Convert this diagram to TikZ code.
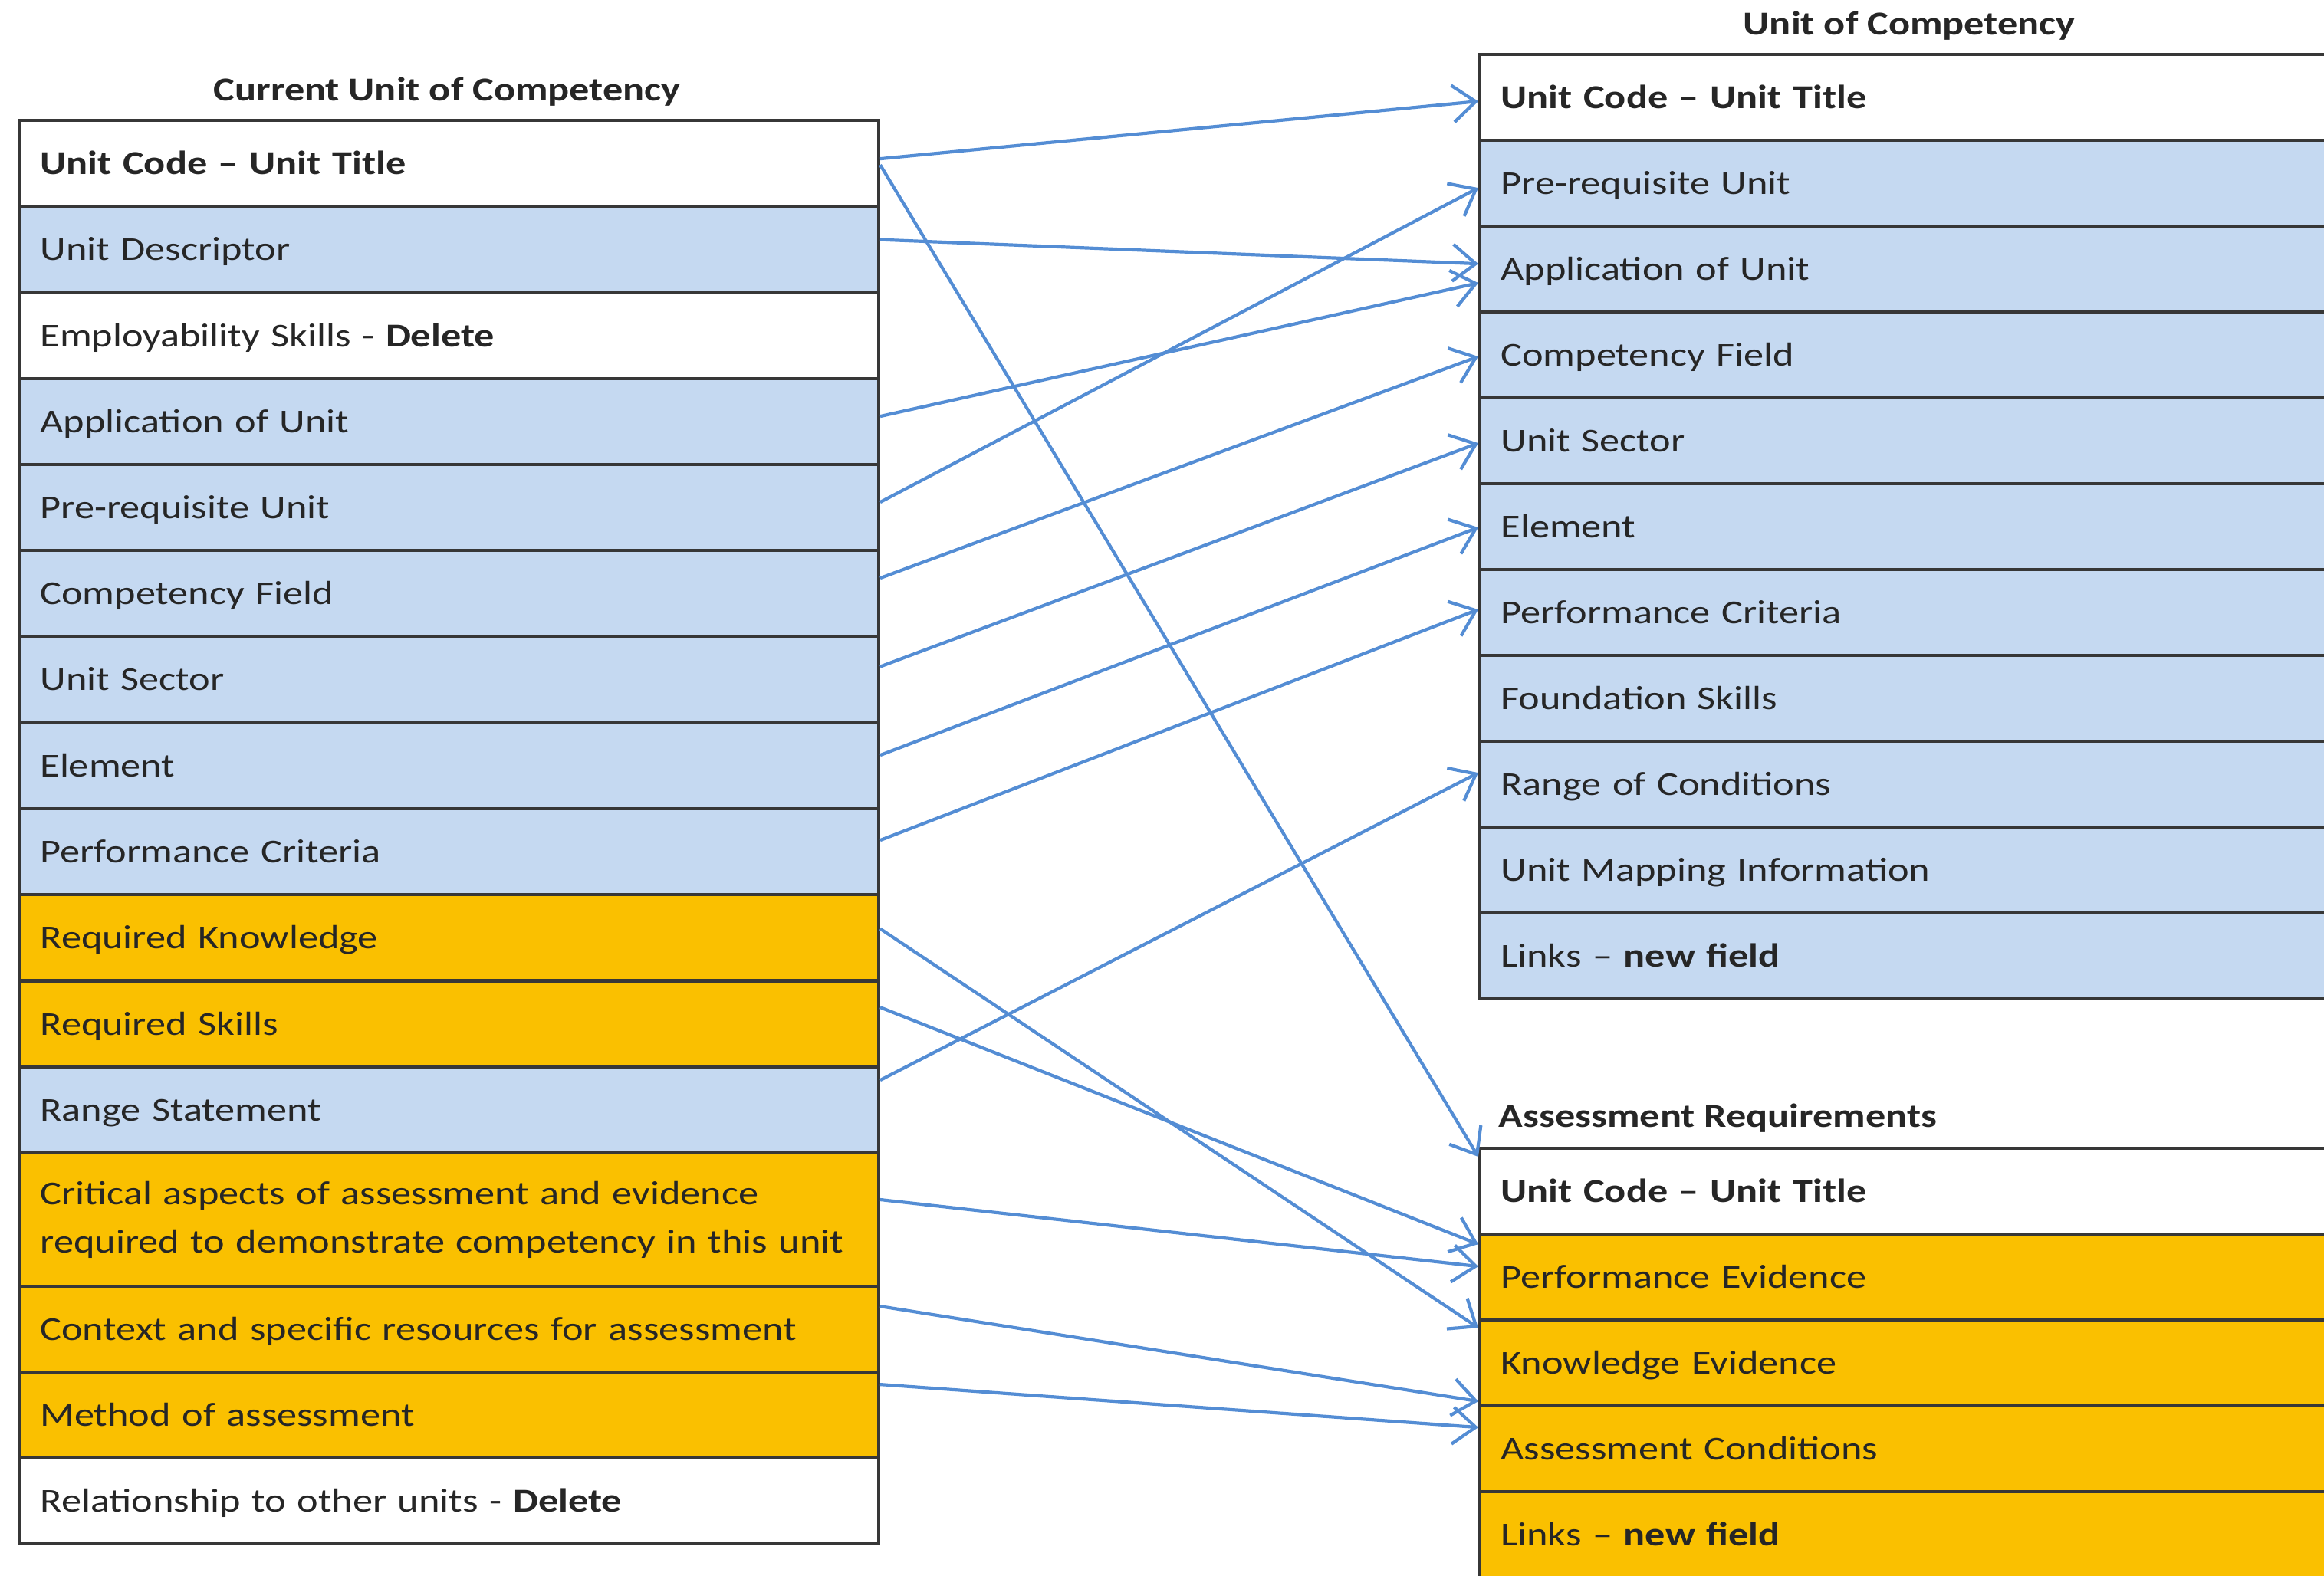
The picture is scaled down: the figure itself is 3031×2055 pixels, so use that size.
\documentclass[tikz,border=0pt]{standalone}
\usepackage{fontspec}
\setmainfont{Carlito}[FakeStretch=1.2]
\usetikzlibrary{arrows.meta}
\definecolor{rowblue}{RGB}{197,217,241}
\definecolor{rowgold}{RGB}{250,192,0}
\definecolor{linkblue}{RGB}{84,141,212}
\definecolor{edgegray}{RGB}{55,55,55}
\begin{document}
\begin{tikzpicture}[x=0.1mm,y=-0.1mm,
  row/.style={draw=edgegray, line width=0.4mm, anchor=north west, inner xsep=2.75mm, inner ysep=0pt,
    text width=106.6mm, minimum height=11.22mm, align=left,
    text height=3.6mm, text depth=0.8mm,
    font=\fontsize{12.4}{18}\selectfont, text=black!85},
  bluerow/.style={row, fill=rowblue},
  goldrow/.style={row, fill=rowgold},
  whiterow/.style={row, fill=white},
  tabletitle/.style={font=\fontsize{12.4}{15}\selectfont\bfseries, text=black!85, inner sep=0pt},
  link/.style={draw=linkblue, line width=0.42mm,
    -{Straight Barb[length=3mm,width=4.8mm,line width=0.42mm]}}
]
\useasboundingbox (0,0) rectangle (3031,2055);

% ---- left table
\node[tabletitle, anchor=base] (TL) at (583,131) {Current Unit of Competency};
\node[whiterow] (L1) at (23,155) {\textbf{Unit Code -- Unit Title}};
\node[bluerow] (L2) at (23,267) {Unit Descriptor};
\node[whiterow] (L3) at (23,380) {Employability Skills - \textbf{Delete}};
\node[bluerow] (L4) at (23,492) {Application of Unit};
\node[bluerow] (L5) at (23,604) {Pre-requisite Unit};
\node[bluerow] (L6) at (23,716) {Competency Field};
\node[bluerow] (L7) at (23,828) {Unit Sector};
\node[bluerow] (L8) at (23,941) {Element};
\node[bluerow] (L9) at (23,1053) {Performance Criteria};
\node[goldrow] (L10) at (23,1165) {Required Knowledge};
\node[goldrow] (L11) at (23,1278) {Required Skills};
\node[bluerow] (L12) at (23,1390) {Range Statement};
\node[goldrow, minimum height=17.4mm, text height={}, text depth={}] (L13) at (23,1502) {Critical aspects of assessment and evidence\\required to demonstrate competency in this unit};
\node[goldrow] (L14) at (23,1676) {Context and specific resources for assessment};
\node[goldrow] (L15) at (23,1788) {Method of assessment};
\node[whiterow] (L16) at (23,1900) {Relationship to other units - \textbf{Delete}};

% ---- right upper table
\node[tabletitle, anchor=base] (TR) at (2490,45) {Unit of Competency};
\node[whiterow] (R1) at (1928,69) {\textbf{Unit Code -- Unit Title}};
\node[bluerow] (R2) at (1928,181) {Pre-requisite Unit};
\node[bluerow] (R3) at (1928,293) {Application of Unit};
\node[bluerow] (R4) at (1928,405) {Competency Field};
\node[bluerow] (R5) at (1928,517) {Unit Sector};
\node[bluerow] (R6) at (1928,629) {Element};
\node[bluerow] (R7) at (1928,741) {Performance Criteria};
\node[bluerow] (R8) at (1928,853) {Foundation Skills};
\node[bluerow] (R9) at (1928,965) {Range of Conditions};
\node[bluerow] (R10) at (1928,1077) {Unit Mapping Information};
\node[bluerow] (R11) at (1928,1189) {Links -- \textbf{new field}};

% ---- right lower table
\node[tabletitle, anchor=base west] (TA) at (1954,1470) {Assessment Requirements};
\node[whiterow] (A1) at (1928,1496) {\textbf{Unit Code -- Unit Title}};
\node[goldrow] (A2) at (1928,1608) {Performance Evidence};
\node[goldrow] (A3) at (1928,1720) {Knowledge Evidence};
\node[goldrow] (A4) at (1928,1832) {Assessment Conditions};
\node[goldrow] (A5) at (1928,1944) {Links -- \textbf{new field}};

% ---- connectors
\draw[link] ([yshift=0.6mm]L1.east) -- ([yshift=-0.5mm]R1.west);
\draw[link] ([yshift=-0.2mm]L1.east) -- ([yshift=-1.3mm]A1.north west);
\draw[link] ([yshift=1.25mm]L2.east) -- ([yshift=0.7mm]R3.west);
\draw[link] ([yshift=0.7mm]L4.east) -- ([yshift=-1.8mm]R3.west);
\draw[link] ([yshift=0.7mm]L5.east) -- ([yshift=-0.6mm]R2.west);
\draw[link] ([yshift=2.0mm]L6.east) -- ([yshift=-0.2mm]R4.west);
\draw[link] ([yshift=1.65mm]L7.east) -- ([yshift=-0.3mm]R5.west);
\draw[link] ([yshift=1.4mm]L8.east) -- ([yshift=-0.1mm]R6.west);
\draw[link] ([yshift=1.5mm]L9.east) -- ([yshift=0.4mm]R7.west);
\draw[link] ([yshift=3.9mm]L12.east) -- ([yshift=1.5mm]R9.west);
\draw[link] ([yshift=1.15mm]L10.east) -- ([yshift=4.6mm]A3.west);
\draw[link] ([yshift=2.2mm]L11.east) -- ([yshift=4.3mm]A2.west);
\draw[link] ([yshift=2.6mm]L13.east) -- ([yshift=1.4mm]A2.west);
\draw[link] ([yshift=3.0mm]L14.east) -- ([yshift=6.2mm]A4.west);
\draw[link] ([yshift=4.0mm]L15.east) -- ([yshift=2.8mm]A4.west);
\end{tikzpicture}
\end{document}
